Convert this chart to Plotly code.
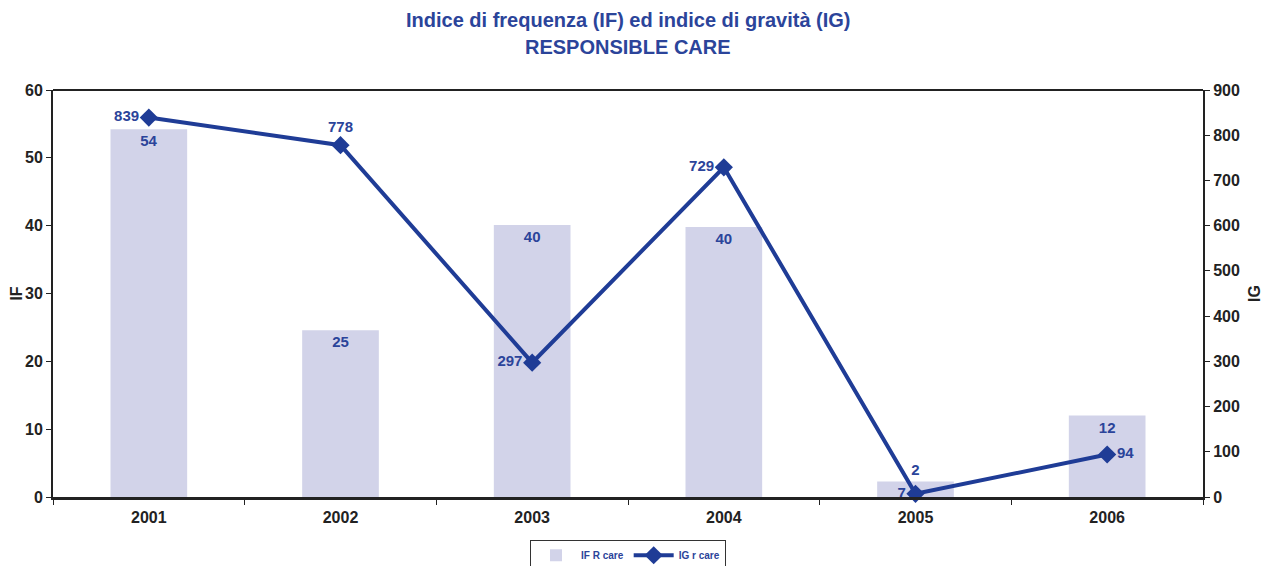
import plotly.graph_objects as go

years = ["2001", "2002", "2003", "2004", "2005", "2006"]
if_values = [54.2, 24.6, 40.1, 39.8, 2.3, 12.0]
ig_values = [839, 778, 297, 729, 7, 94]
if_text_pos = ["inside", "inside", "inside", "inside", "outside", "inside"]
ig_text_pos = ["middle left", "top center", "middle left", "middle left", "middle left", "middle right"]

blue = "#1F3C96"
text_blue = "#2B449A"
bar_color = "#D2D3E9"
axis_color = "#222222"

fig = go.Figure()
fig.add_trace(go.Bar(
    x=years, y=if_values, name="IF R care",
    marker=dict(color=bar_color, line=dict(width=0)),
    text=[f"{v:.0f}" for v in if_values],
    textposition=if_text_pos,
    insidetextanchor="end",
    textfont=dict(color=text_blue, size=15, family="Liberation Sans", weight="bold"),
    cliponaxis=False,
    yaxis="y",
))
fig.add_trace(go.Scatter(
    x=years, y=ig_values, name="IG r care",
    mode="lines+markers+text",
    line=dict(color=blue, width=4),
    marker=dict(symbol="diamond", size=14, color=blue),
    text=[str(v) for v in ig_values],
    textposition=ig_text_pos,
    textfont=dict(color=text_blue, size=15, family="Liberation Sans", weight="bold"),
    cliponaxis=False,
    yaxis="y2",
))

tickfont = dict(family="Liberation Sans", size=16, color="#222222", weight="bold")

fig.update_layout(
    width=1269, height=566,
    margin=dict(l=45, r=74, t=82, b=77, autoexpand=False),
    paper_bgcolor="white", plot_bgcolor="white",
    bargap=0.6,
    showlegend=True,
    legend=dict(
        orientation="h", x=0.5, xanchor="center", y=-0.105, yanchor="top",
        bordercolor="#333333", borderwidth=1,
        font=dict(family="Liberation Sans", size=10, color=text_blue, weight="bold"),
        itemwidth=40, tracegroupgap=0,
    ),
    xaxis=dict(
        type="category", showgrid=False, showline=True, linecolor=axis_color, linewidth=3,
        ticks="outside", tickson="boundaries", ticklen=5, tickcolor=axis_color,
        tickfont=tickfont, mirror=False, automargin=False, ticklabelstandoff=4,
    ),
    yaxis=dict(
        range=[0, 60], dtick=10, showgrid=False, zeroline=False,
        showline=True, linecolor=axis_color, linewidth=2, mirror=False,
        ticks="outside", ticklen=5, tickcolor=axis_color, tickfont=tickfont,
        title=dict(text="IF", font=tickfont, standoff=4), automargin=False,
    ),
    yaxis2=dict(
        range=[0, 900], dtick=100, overlaying="y", side="right", showgrid=False,
        zeroline=False, showline=True, linecolor=axis_color, linewidth=2,
        ticks="outside", ticklen=5, tickcolor=axis_color, tickfont=tickfont,
        title=dict(text="IG", font=tickfont, standoff=10), automargin=False,
    ),
    shapes=[dict(type="line", xref="paper", yref="paper", x0=0, x1=1, y0=1, y1=1,
                 line=dict(color=axis_color, width=2))],
    annotations=[
        dict(text="Indice di frequenza (IF) ed indice di gravità (IG)", xref="paper", yref="paper",
             x=0.5, y=(497 - 20) / 407, xanchor="center", yanchor="middle", showarrow=False,
             font=dict(family="Liberation Sans", size=20, color=text_blue, weight="bold")),
        dict(text="RESPONSIBLE CARE", xref="paper", yref="paper",
             x=0.5, y=(497 - 47) / 407, xanchor="center", yanchor="middle", showarrow=False,
             font=dict(family="Liberation Sans", size=20, color=text_blue, weight="bold")),
    ],
)

fig.write_html("out.html")
